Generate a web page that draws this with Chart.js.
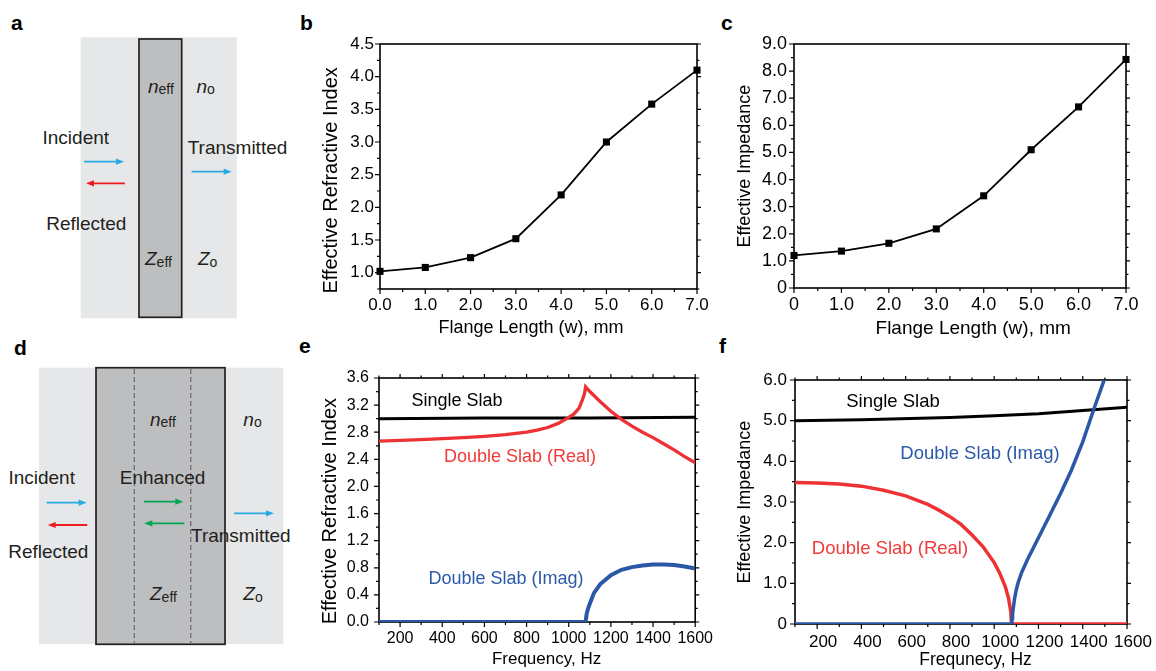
<!DOCTYPE html>
<html>
<head>
<meta charset="utf-8">
<script src="https://cdn.jsdelivr.net/npm/chart.js@4.4.1/dist/chart.umd.min.js"></script>
<style>
  html, body { margin: 0; padding: 0; background: #fff; }
  body { width: 1156px; height: 671px; position: relative; overflow: hidden;
         font-family: 'Liberation Sans', Arial, sans-serif; color: #231f20; }
  .box { position: absolute; }
  .lbl { position: absolute; font-weight: bold; font-size: 21px; line-height: 1; color: #000; }
  .note { position: absolute; transform: translate(-50%, -50%); font-size: 18px; line-height: 1; white-space: nowrap; }
</style>
</head>
<body>

<!-- schematic panels a and d -->
<svg width="300" height="671" style="position:absolute;left:0;top:0" font-family="Liberation Sans, Arial, sans-serif" fill="#231f20">
  <rect x="80.7" y="37.3" width="156" height="281" fill="#e6e7e8"/>
  <rect x="139" y="39" width="42.7" height="278.3" fill="#bdbec0" stroke="#231f20" stroke-width="1.7"/>
  <text x="148" y="92.5" font-size="19"><tspan font-style="italic">n</tspan><tspan font-size="14" dy="1.5">eff</tspan></text>
  <text x="196.5" y="92.5" font-size="19"><tspan font-style="italic">n</tspan><tspan font-size="14" dy="1.5">o</tspan></text>
  <text x="145" y="265" font-size="19"><tspan font-style="italic">Z</tspan><tspan font-size="14" dy="1.5">eff</tspan></text>
  <text x="198" y="265" font-size="19"><tspan font-style="italic">Z</tspan><tspan font-size="14" dy="1.5">o</tspan></text>
  <text x="75.8" y="143.5" font-size="19" text-anchor="middle">Incident</text>
  <text x="86.3" y="230" font-size="19" text-anchor="middle">Reflected</text>
  <text x="237.5" y="153.5" font-size="19" text-anchor="middle">Transmitted</text>
  <g stroke-width="1.8">
    <line x1="84" y1="161.7" x2="119" y2="161.7" stroke="#27aae1"/>
    <polygon points="124,161.7 116,158.6 116,164.8" fill="#27aae1"/>
    <line x1="125" y1="183.3" x2="91" y2="183.3" stroke="#ed1c24"/>
    <polygon points="86,183.3 94,180.2 94,186.4" fill="#ed1c24"/>
    <line x1="191.7" y1="171.7" x2="226.7" y2="171.7" stroke="#27aae1"/>
    <polygon points="231.7,171.7 223.7,168.6 223.7,174.8" fill="#27aae1"/>
  </g>

  <rect x="39" y="367.7" width="244.3" height="276.3" fill="#e6e7e8"/>
  <rect x="96" y="367.7" width="129" height="276.6" fill="#bdbec0" stroke="#231f20" stroke-width="1.7"/>
  <line x1="134.3" y1="369" x2="134.3" y2="643" stroke="#6d6e71" stroke-width="1.3" stroke-dasharray="5,3"/>
  <line x1="190.7" y1="369" x2="190.7" y2="643" stroke="#6d6e71" stroke-width="1.3" stroke-dasharray="5,3"/>
  <text x="150" y="425.7" font-size="19"><tspan font-style="italic">n</tspan><tspan font-size="14" dy="1.5">eff</tspan></text>
  <text x="243.3" y="425.7" font-size="19"><tspan font-style="italic">n</tspan><tspan font-size="14" dy="1.5">o</tspan></text>
  <text x="150" y="600" font-size="19"><tspan font-style="italic">Z</tspan><tspan font-size="14" dy="1.5">eff</tspan></text>
  <text x="243.3" y="600" font-size="19"><tspan font-style="italic">Z</tspan><tspan font-size="14" dy="1.5">o</tspan></text>
  <text x="41.7" y="483.5" font-size="19" text-anchor="middle">Incident</text>
  <text x="162.5" y="484" font-size="19" text-anchor="middle">Enhanced</text>
  <text x="240.8" y="541.8" font-size="19" text-anchor="middle">Transmitted</text>
  <text x="48.3" y="557.5" font-size="19" text-anchor="middle">Reflected</text>
  <g stroke-width="1.8">
    <line x1="46.7" y1="502.7" x2="81.7" y2="502.7" stroke="#27aae1"/>
    <polygon points="86.7,502.7 78.7,499.6 78.7,505.8" fill="#27aae1"/>
    <line x1="87.3" y1="525" x2="52.7" y2="525" stroke="#ed1c24"/>
    <polygon points="47.7,525 55.7,521.9 55.7,528.1" fill="#ed1c24"/>
    <line x1="144" y1="501.7" x2="178.3" y2="501.7" stroke="#00a651"/>
    <polygon points="183.3,501.7 175.3,498.6 175.3,504.8" fill="#00a651"/>
    <line x1="184.3" y1="523.3" x2="149.3" y2="523.3" stroke="#00a651"/>
    <polygon points="144.3,523.3 152.3,520.2 152.3,526.4" fill="#00a651"/>
    <line x1="234" y1="513.3" x2="269" y2="513.3" stroke="#27aae1"/>
    <polygon points="274,513.3 266,510.2 266,516.4" fill="#27aae1"/>
  </g>
</svg>

<div class="lbl" style="left:11px;top:12px">a</div>
<div class="lbl" style="left:300px;top:12px">b</div>
<div class="lbl" style="left:721px;top:12px">c</div>
<div class="lbl" style="left:14px;top:337px">d</div>
<div class="lbl" style="left:299px;top:335px">e</div>
<div class="lbl" style="left:719px;top:335px">f</div>

<div class="box" style="left:300px;top:0;width:420px;height:340px"><canvas id="chartB"></canvas></div>
<div class="box" style="left:720px;top:0;width:436px;height:340px"><canvas id="chartC"></canvas></div>
<div class="box" style="left:300px;top:340px;width:420px;height:331px"><canvas id="chartE"></canvas></div>
<div class="box" style="left:720px;top:340px;width:436px;height:331px"><canvas id="chartF"></canvas></div>

<div class="note" style="left:457px;top:400px;color:#000">Single Slab</div>
<div class="note" style="left:520px;top:456px;color:#ef3b39">Double Slab (Real)</div>
<div class="note" style="left:506px;top:578px;color:#2c5aa8">Double Slab (Imag)</div>
<div class="note" style="left:893px;top:401px;color:#000;font-size:18.5px">Single Slab</div>
<div class="note" style="left:980px;top:453px;color:#2c5aa8;font-size:18.5px">Double Slab (Imag)</div>
<div class="note" style="left:890px;top:548px;color:#ef3b39;font-size:18.5px">Double Slab (Real)</div>

<script>
// panels b, c: flange length sweep
const flange = [0, 1, 2, 3, 4, 5, 6, 7];
const nEff = [1.02, 1.08, 1.23, 1.52, 2.19, 3.00, 3.58, 4.10];
const zEff = [1.20, 1.36, 1.65, 2.18, 3.40, 5.10, 6.68, 8.43];

// tick labels
const flangeTicks = [0, 1, 2, 3, 4, 5, 6, 7];
const nTicks = [1.0, 1.5, 2.0, 2.5, 3.0, 3.5, 4.0, 4.5];
const zTicks = [0, 1, 2, 3, 4, 5, 6, 7, 8, 9];
const freqTicks = [200, 400, 600, 800, 1000, 1200, 1400, 1600];
const nFreqTicks = [0, 0.4, 0.8, 1.2, 1.6, 2.0, 2.4, 2.8, 3.2, 3.6];
const zFreqTicks = [0, 1, 2, 3, 4, 5, 6];

// panel e: refractive index vs frequency
const eSingleFreq = [100, 600, 1100, 1600];
const eSingleN = [3.00, 3.01, 3.01, 3.02];
const eRealFreq = [100, 200, 300, 400, 500, 600, 700, 800, 850, 900, 950, 1000, 1025, 1050, 1065, 1075, 1080,
                   1100, 1150, 1200, 1250, 1300, 1350, 1400, 1450, 1500, 1550, 1600];
const eRealN = [2.67, 2.68, 2.69, 2.705, 2.72, 2.74, 2.765, 2.80, 2.83, 2.87, 2.93, 3.02, 3.07, 3.16, 3.28, 3.37, 3.47,
                3.40, 3.25, 3.11, 2.99, 2.89, 2.80, 2.72, 2.63, 2.54, 2.44, 2.35];
const eImagFreq = [100, 1080, 1085, 1090, 1100, 1120, 1150, 1200, 1250, 1300, 1350, 1400, 1450, 1500, 1550, 1600];
const eImagN = [0, 0, 0.12, 0.18, 0.27, 0.43, 0.56, 0.69, 0.77, 0.81, 0.835, 0.85, 0.85, 0.84, 0.82, 0.79];

// panel f: impedance vs frequency
const fSingleFreq = [100, 400, 800, 1000, 1200, 1400, 1600];
const fSingleZ = [5.00, 5.02, 5.08, 5.12, 5.17, 5.25, 5.33];
const fRealFreq = [100, 200, 300, 400, 500, 600, 700, 750, 800, 850, 900, 950, 1000, 1025, 1050, 1065, 1075, 1078, 1600];
const fRealZ = [3.48, 3.47, 3.44, 3.39, 3.29, 3.15, 2.94, 2.80, 2.64, 2.45, 2.19, 1.90, 1.51, 1.25, 0.92, 0.63, 0.30, 0, 0];
const fImagFreq = [100, 1080, 1081, 1083, 1086, 1092, 1100, 1110, 1125, 1150, 1200, 1250, 1300, 1350, 1400, 1450, 1500];
const fImagZ = [0, 0, 0.15, 0.25, 0.39, 0.62, 0.85, 1.05, 1.28, 1.58, 2.12, 2.66, 3.21, 3.80, 4.48, 5.28, 6.05];

const RED = '#ee3135';
const BLUE = '#2a57a6';
const NB = '\u00a0';

Chart.defaults.font.family = "'Liberation Sans', Arial, sans-serif";
Chart.defaults.color = '#000';

const pts = (xs, ys) => xs.map((x, i) => ({ x, y: ys[i] }));

function minorValues(scale, step) {
  const majors = scale.ticks.map(t => t.value);
  const out = [];
  const start = Math.ceil((scale.min - 1e-9) / step);
  for (let k = start; k * step <= scale.max + 1e-9; k++) {
    const v = k * step;
    if (!majors.some(m => Math.abs(m - v) < step / 10)) out.push(v);
  }
  return out;
}

// box frame + major/minor tick marks (Origin style)
const frame = {
  id: 'frame',
  beforeDatasetsDraw(chart, args, o) {
    const { ctx, chartArea: a } = chart;
    const xs = chart.scales.x, ys = chart.scales.y;
    ctx.save();
    ctx.strokeStyle = '#000';
    ctx.lineWidth = 1.6;
    ctx.strokeRect(a.left, a.top, a.right - a.left, a.bottom - a.top);
    ctx.lineWidth = 1.2;
    ctx.beginPath();
    const xMark = (v, len) => {
      const p = xs.getPixelForValue(v);
      ctx.moveTo(p, a.bottom); ctx.lineTo(p, a.bottom + len);
      if (o.top) { ctx.moveTo(p, a.top); ctx.lineTo(p, a.top - len * 0.8); }
    };
    const yMark = (v, len) => {
      const p = ys.getPixelForValue(v);
      ctx.moveTo(a.left, p); ctx.lineTo(a.left - len, p);
      ctx.moveTo(a.right, p); ctx.lineTo(a.right + len * 0.8, p);
    };
    xs.ticks.forEach(t => xMark(t.value, 5));
    minorValues(xs, o.xMinor).forEach(v => xMark(v, 3));
    ys.ticks.forEach(t => yMark(t.value, 5));
    minorValues(ys, o.yMinor).forEach(v => yMark(v, 3));
    ctx.stroke();
    ctx.restore();
  }
};

function axis(o, horizontal) {
  return {
    type: 'linear',
    min: o.min,
    max: o.max,
    grid: { display: false, drawTicks: false },
    border: { display: false },
    afterBuildTicks: s => { s.ticks = o.ticks.map(v => ({ value: v })); },
    afterFit: s => { if (horizontal) s.height = o.size; else s.width = o.size; },
    ticks: {
      autoSkip: false, maxRotation: 0, padding: o.pad, labelOffset: o.labelOffset || 0,
      font: { size: o.font }, color: '#000', callback: o.fmt
    },
    title: {
      display: true, text: o.title, color: '#000', font: { size: o.titleFont },
      padding: horizontal ? { top: 0, bottom: o.titlePad } : { top: o.titlePad, bottom: 0 }
    }
  };
}

function makeChart(id, datasets, c) {
  return new Chart(document.getElementById(id), {
    type: 'line',
    data: { datasets },
    options: {
      responsive: true,
      maintainAspectRatio: false,
      animation: false,
      layout: { padding: c.pad },
      plugins: { legend: { display: false }, tooltip: { enabled: false }, frame: c.frame },
      scales: { x: axis(c.x, true), y: axis(c.y, false) }
    },
    plugins: [frame]
  });
}

const fmt1 = v => v.toFixed(1);
const fmtZero = v => (v === 0 ? '0' : v.toFixed(1));
const fmtInt = v => String(v);

const markerLine = (data) => ({
  data, borderColor: '#000', borderWidth: 1.8, tension: 0, clip: false,
  pointStyle: 'rect', pointRadius: 5, pointBackgroundColor: '#000', pointBorderWidth: 0
});
const curve = (data, color, w) => ({
  data, borderColor: color, borderWidth: w, tension: 0, pointRadius: 0
});

makeChart('chartB', [markerLine(pts(flange, nEff))], {
  pad: { left: 0, top: 44, right: 23, bottom: 0 },
  frame: { xMinor: 0.5, yMinor: 0.25, top: false },
  x: { min: 0, max: 7, ticks: flangeTicks, fmt: fmt1, size: 51, pad: 6, font: 17,
       title: 'Flange Length (w), mm' + NB.repeat(3), titleFont: 18, titlePad: 1 },
  y: { min: 0.75, max: 4.5, ticks: nTicks, fmt: fmt1, size: 80, pad: 6, font: 17,
       title: 'Effective Refractive Index' + NB.repeat(5), titleFont: 20, titlePad: 19 }
});

makeChart('chartC', [markerLine(pts(flange, zEff))], {
  pad: { left: 0, top: 44, right: 30, bottom: 0 },
  frame: { xMinor: 0.5, yMinor: 0.5, top: false },
  x: { min: 0, max: 7, ticks: flangeTicks, fmt: fmtZero, size: 52, pad: 6, font: 18,
       title: NB.repeat(5) + 'Flange Length (w), mm', titleFont: 19, titlePad: 0 },
  y: { min: 0, max: 9, ticks: zTicks, fmt: fmtZero, size: 74, pad: 7, font: 18,
       title: 'Effective Impedance', titleFont: 18, titlePad: 14 }
});

makeChart('chartE', [
  curve(pts(eImagFreq, eImagN), BLUE, 4),
  curve(pts(eRealFreq, eRealN), RED, 3.3),
  curve(pts(eSingleFreq, eSingleN), '#000', 3)
], {
  pad: { left: 0, top: 38, right: 21, bottom: 0 },
  frame: { xMinor: 100, yMinor: 0.2, top: true },
  x: { min: 100, max: 1600, ticks: freqTicks, fmt: fmtInt, size: 49, pad: 7, font: 16,
       title: NB.repeat(4) + 'Frequency, Hz', titleFont: 17, titlePad: 1 },
  y: { min: 0, max: 3.6, ticks: nFreqTicks, fmt: fmt1, size: 79, pad: 10, font: 16,
       title: 'Effective Refractive Index' + NB.repeat(4), titleFont: 20, titlePad: 18 }
});

makeChart('chartF', [
  curve(pts(fImagFreq, fImagZ), BLUE, 3.5),
  curve(pts(fRealFreq, fRealZ), RED, 3.5),
  curve(pts(fSingleFreq, fSingleZ), '#000', 3)
], {
  pad: { left: 0, top: 40, right: 29, bottom: 0 },
  frame: { xMinor: 100, yMinor: 0.5, top: true },
  x: { min: 100, max: 1600, ticks: freqTicks, fmt: fmtInt, size: 47, pad: 8.5, font: 17, labelOffset: 6,
       title: NB.repeat(6) + 'Frequnecy, Hz', titleFont: 17.5, titlePad: 0 },
  y: { min: 0, max: 6, ticks: zFreqTicks, fmt: fmtZero, size: 75, pad: 8, font: 17,
       title: 'Effective Impedance', titleFont: 18, titlePad: 14.7 }
});
</script>
</body>
</html>
